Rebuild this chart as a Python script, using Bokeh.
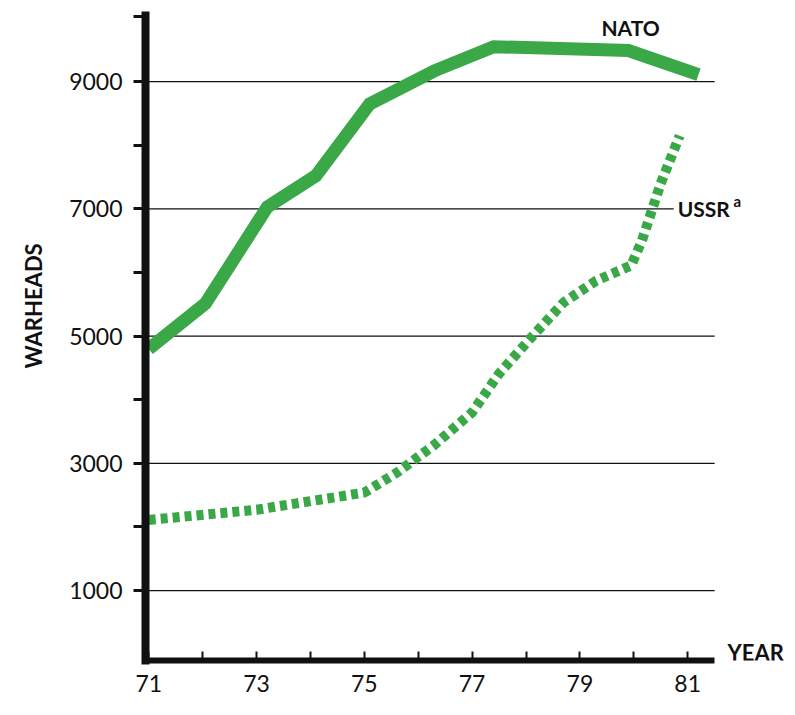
from bokeh.plotting import figure
from bokeh.models import FixedTicker, Label, Range1d, Title
from bokeh.embed import file_html
from bokeh.resources import INLINE

# --- data ---
nato_years = [71.0, 72.05, 73.2, 74.1, 75.1, 76.3, 77.4, 79.9, 81.2]
nato_warheads = [4800, 5510, 7030, 7520, 8650, 9170, 9550, 9490, 9110]

ussr_years = [71.0, 73.0, 75.0, 75.6, 76.3, 77.0, 77.5, 78.1, 78.7, 79.3, 79.95, 80.15, 80.5, 80.85]
ussr_warheads = [2110, 2270, 2540, 2850, 3290, 3800, 4410, 4980, 5530, 5870, 6110, 6500, 7400, 8150]

y_major = [1000, 3000, 5000, 7000, 9000]
y_minor = [2000, 4000, 6000, 8000]
x_major = [71, 73, 75, 77, 79, 81]
x_minor = [72, 74, 76, 78, 80]

X_START, X_AXIS_END, X_END = 70.94, 81.5, 83.0

GREEN = "#3aa847"
INK = "#111111"
NUM_FONT = "Lato"
LBL_FONT = "Lato"

p = figure(width=795, height=715,
           x_range=Range1d(X_START, X_END), y_range=Range1d(-100, 10040),
           output_backend="svg", toolbar_location=None,
           min_border_left=145, min_border_right=0,
           min_border_top=15, min_border_bottom=55)
p.outline_line_color = None
p.background_fill_color = "white"
p.border_fill_color = "white"
p.xgrid.visible = False
p.ygrid.visible = False

# horizontal rules at the labelled thousands, ending where the x axis ends
p.segment(x0=[X_START] * len(y_major), x1=[X_AXIS_END] * len(y_major),
          y0=y_major, y1=y_major, line_color=INK, line_width=1.3, level="underlay")

# y axis
p.yaxis.ticker = FixedTicker(ticks=y_major, minor_ticks=y_minor + [10030])
p.yaxis.axis_line_width = 8
p.yaxis.axis_line_color = INK
p.yaxis.axis_line_cap = "square"
p.yaxis.major_tick_out = 12
p.yaxis.major_tick_in = 0
p.yaxis.minor_tick_out = 12
p.yaxis.minor_tick_in = 0
p.yaxis.major_tick_line_width = 3
p.yaxis.minor_tick_line_width = 3
p.yaxis.major_tick_line_color = INK
p.yaxis.minor_tick_line_color = INK
p.yaxis.major_label_standoff = 11
p.yaxis.major_label_text_font = NUM_FONT
p.yaxis.major_label_text_font_size = "23px"
p.yaxis.major_label_text_color = INK

# x axis
p.xaxis.ticker = FixedTicker(ticks=x_major, minor_ticks=x_minor)
p.xaxis.bounds = (X_START, X_AXIS_END)
p.xaxis.axis_line_width = 6
p.xaxis.axis_line_color = INK
p.xaxis.major_tick_in = 9
p.xaxis.major_tick_out = 0
p.xaxis.minor_tick_in = 9
p.xaxis.minor_tick_out = 0
p.xaxis.major_tick_line_width = 2
p.xaxis.minor_tick_line_width = 2
p.xaxis.major_tick_line_color = INK
p.xaxis.minor_tick_line_color = INK
p.xaxis.major_label_standoff = 14
p.xaxis.major_label_text_font = NUM_FONT
p.xaxis.major_label_text_font_size = "23px"
p.xaxis.major_label_text_color = INK

# series
p.line(nato_years, nato_warheads, line_width=13, line_color=GREEN, line_join="miter")
p.line(ussr_years, ussr_warheads, line_width=10, line_color=GREEN, line_dash="7 5")

# labels
def lab(x, y, text, size, align="left", baseline="middle", bg=None):
    l = Label(x=x, y=y, text=text, text_font=LBL_FONT, text_font_size=size,
              text_font_style="bold", text_align=align, text_baseline=baseline,
              text_color=INK)
    if bg:
        l.background_fill_color = bg
        l.padding = 4
    p.add_layout(l)

lab(79.94, 9851, "NATO", "21px", align="center")
lab(80.74, 7006, "USSR", "21px", bg="white")
lab(81.85, 7116, "a", "15px")
lab(81.74, 30, "YEAR", "22px")

ytitle = Title(text="WARHEADS", align="left", vertical_align="top", offset=292, standoff=36,
               text_font=LBL_FONT, text_font_size="22px", text_font_style="bold",
               text_color=INK)
p.add_layout(ytitle, "left")

open("out.html", "w").write(file_html(p, INLINE))
